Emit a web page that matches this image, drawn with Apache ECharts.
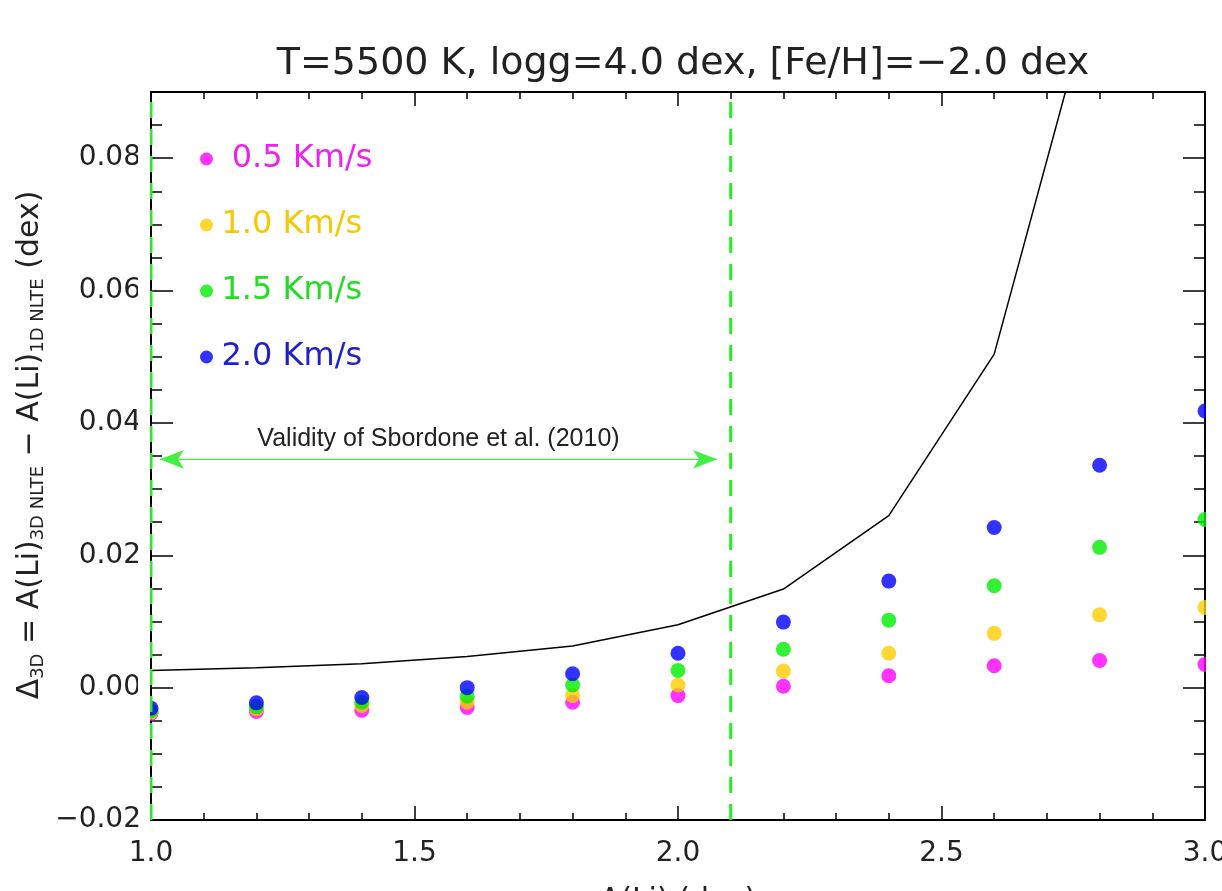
<!DOCTYPE html>
<html><head><meta charset="utf-8">
<script src="https://cdn.jsdelivr.net/npm/echarts@6/dist/echarts.min.js"></script>
<style>html,body{margin:0;padding:0;background:#fff}#c{width:1222px;height:891px}</style>
</head><body><div id="c"></div>
<script>
const xVals = [1.0, 1.2, 1.4, 1.6, 1.8, 2.0, 2.2, 2.4, 2.6, 2.8, 3.0];
const v05 = [-0.0039, -0.0036, -0.0034, -0.0030, -0.0022, -0.0012, 0.0002, 0.0018, 0.0033, 0.0041, 0.0035];
const v10 = [-0.0037, -0.0032, -0.0027, -0.0022, -0.0012, 0.0004, 0.0025, 0.0052, 0.0082, 0.0110, 0.0121];
const v15 = [-0.0035, -0.0029, -0.0022, -0.0013, 0.0004, 0.0026, 0.0058, 0.0102, 0.0154, 0.0212, 0.0254];
const v20 = [-0.0031, -0.0023, -0.0015, 0.0000, 0.0021, 0.0052, 0.0099, 0.0161, 0.0242, 0.0336, 0.0418];
const curveX = [1.0, 1.2, 1.4, 1.6, 1.8, 2.0, 2.2, 2.4, 2.6, 2.8];
const curveY = [0.0026, 0.0030, 0.0036, 0.0047, 0.0063, 0.0095, 0.0149, 0.0260, 0.0504, 0.109];
const seriesNames = [' 0.5 Km/s', '1.0 Km/s', '1.5 Km/s', '2.0 Km/s'];
const seriesColors = ['#ff00ff', '#ffcc00', '#00ee00', '#0000ff'];
const legendTextColors = ['#ee22ee', '#f5c800', '#22dd22', '#2020cc'];
const validityX = [1.0, 2.1];
const arrowX = [1.017, 2.074];
const arrowY = 0.0345;
const arrowText = 'Validity of Sbordone et al. (2010)';
const titleText = 'T=5500 K, logg=4.0 dex, [Fe/H]=\u22122.0 dex';
const xName = 'A(Li) (dex)';
const xMin = 1.0, xMax = 3.0, yMin = -0.02, yMax = 0.09;

const chart = echarts.init(document.getElementById('c'));
const FONT = 'DejaVu Sans';
const tickFmt = v => (v > 0.085 ? '' : v.toFixed(2).replace('-', '\u2212'));
const values = [v05, v10, v15, v20];

const scatterSeries = values.map((arr, i) => ({
  name: seriesNames[i], type: 'scatter', symbol: 'circle', symbolSize: 15,
  itemStyle: { color: seriesColors[i] },
  data: xVals.map((x, j) => [x, arr[j]]), z: 3
}));

const tickStyle = { color: '#000', width: 1.5 };

const option = {
  animation: false,
  backgroundColor: '#fff',
  title: { text: titleText, left: 678, textAlign: 'center', top: 40,
    textStyle: { fontFamily: FONT, fontWeight: 'normal', fontSize: 38, color: '#222' } },
  legend: {
    orient: 'vertical', left: 195, top: 138, itemGap: 34, itemWidth: 20, itemHeight: 13,
    icon: 'circle', selectedMode: false,
    textStyle: { fontFamily: FONT, fontSize: 32, lineHeight: 30 },
    data: seriesNames.map((n, i) => ({ name: n, textStyle: { color: legendTextColors[i] } }))
  },
  grid: { left: 151, right: 17, top: 92, bottom: 71, containLabel: false, outerBoundsMode: 'none' },
  xAxis: [
    { type: 'value', min: xMin, max: xMax, interval: 0.5, position: 'bottom',
      name: xName, nameLocation: 'middle', nameGap: 66,
      nameTextStyle: { fontFamily: FONT, fontSize: 30, color: '#222' },
      axisLine: { onZero: false, lineStyle: { color: '#000', width: 2 } },
      axisTick: { inside: true, length: 14, lineStyle: tickStyle },
      minorTick: { show: true, splitNumber: 5, length: 7, lineStyle: tickStyle },
      axisLabel: { fontFamily: FONT, fontSize: 28, color: '#222', margin: 20, formatter: v => v.toFixed(1) },
      splitLine: { show: false } },
    { type: 'value', min: xMin, max: xMax, interval: 0.5, position: 'top',
      axisLine: { onZero: false, lineStyle: { color: '#000', width: 2 } },
      axisTick: { inside: true, length: 14, lineStyle: tickStyle },
      minorTick: { show: true, splitNumber: 5, length: 7, lineStyle: tickStyle },
      axisLabel: { show: false }, splitLine: { show: false } }
  ],
  yAxis: [
    { type: 'value', min: yMin, max: yMax, interval: 0.02, position: 'left',
      axisLine: { onZero: false, lineStyle: { color: '#000', width: 2 } },
      axisTick: { inside: true, length: 22, lineStyle: tickStyle },
      minorTick: { show: true, splitNumber: 4, length: 11, lineStyle: tickStyle },
      axisLabel: { fontFamily: FONT, fontSize: 28, color: '#222', margin: 10, formatter: tickFmt, showMaxLabel: false },
      splitLine: { show: false } },
    { type: 'value', min: yMin, max: yMax, interval: 0.02, position: 'right',
      axisLine: { onZero: false, lineStyle: { color: '#000', width: 2 } },
      axisTick: { inside: true, length: 22, lineStyle: tickStyle },
      minorTick: { show: true, splitNumber: 4, length: 11, lineStyle: tickStyle },
      axisLabel: { show: false }, splitLine: { show: false } }
  ],
  series: [
    { type: 'line', name: 'curve', showSymbol: false, symbol: 'none', clip: true,
      lineStyle: { color: '#000', width: 1.5 }, data: curveX.map((x, i) => [x, curveY[i]]), z: 2 },
    ...validityX.map(vx => ({
      type: 'line', showSymbol: false, symbol: 'none', clip: true, z: 4,
      lineStyle: { color: '#22ee22', width: 3, type: [16, 11] },
      data: [[vx, yMin], [vx, yMax]]
    })),
    { type: 'line', showSymbol: false, symbol: 'none', z: 4,
      lineStyle: { color: '#44ee44', width: 1.2 },
      data: [[arrowX[0], arrowY], [arrowX[1], arrowY]],
      markLine: {
        silent: true, symbol: ['arrow', 'arrow'], symbolSize: [14, 24], animation: false,
        itemStyle: { color: '#00ee00' },
        lineStyle: { color: '#44ee44', width: 1.2, type: 'solid' },
        label: { show: true, position: 'middle', distance: 8, formatter: arrowText,
          fontFamily: 'Liberation Sans', fontSize: 25, color: '#222' },
        data: [[{ coord: [arrowX[0], arrowY] }, { coord: [arrowX[1], arrowY] }]]
      }
    },
    ...scatterSeries
  ],
  graphic: [
    { type: 'rect', shape: { x: 1206, y: 92, width: 16, height: 728 }, style: { fill: '#fff' }, z: 50, silent: true },
    { type: 'rect', shape: { x: 138, y: 92, width: 12, height: 728 }, style: { fill: '#fff' }, z: 50, silent: true },
    { type: 'text', x: 30, y: 445, rotation: Math.PI / 2, z: 60,
      style: {
        text: 'Δ{sub|3D} = A(Li){sub|3D NLTE} \u2212 A(Li){sub|1D NLTE} (dex)',
        align: 'center', verticalAlign: 'middle',
        fontFamily: FONT, fontSize: 30, fill: '#222',
        rich: { sub: { fontFamily: FONT, fontSize: 18, fill: '#222', verticalAlign: 'bottom', padding: [16, 0, 0, 0] } }
      } }
  ]
};
chart.setOption(option);
</script></body></html>
